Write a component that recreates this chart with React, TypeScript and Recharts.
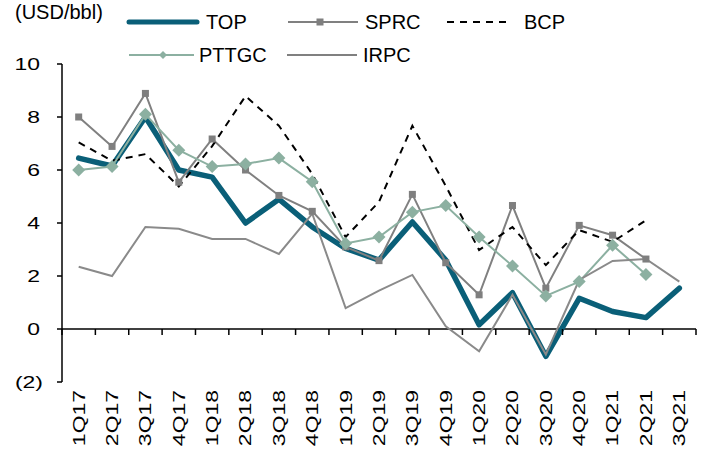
import { LineChart, Line, XAxis, YAxis, ReferenceLine } from "recharts";

const quarters = [
  "1Q17", "2Q17", "3Q17", "4Q17", "1Q18", "2Q18", "3Q18", "4Q18", "1Q19", "2Q19",
  "3Q19", "4Q19", "1Q20", "2Q20", "3Q20", "4Q20", "1Q21", "2Q21", "3Q21",
];
const topVals = [6.45, 6.15, 8.0, 6.0, 5.73, 4.0, 4.9, 3.85, 3.04, 2.6, 4.04, 2.6, 0.16, 1.37, -1.03, 1.16, 0.66, 0.43, 1.54];
const sprcVals = [8.0, 6.89, 8.89, 5.54, 7.17, 6.0, 5.04, 4.44, 3.1, 2.58, 5.08, 2.5, 1.29, 4.66, 1.54, 3.91, 3.54, 2.64, null];
const bcpVals = [7.04, 6.35, 6.6, 5.38, 6.9, 8.79, 7.67, 5.85, 3.47, 4.8, 7.67, 5.4, 2.98, 3.85, 2.41, 3.73, 3.29, 4.1, null];
const pttgcVals = [6.0, 6.13, 8.1, 6.75, 6.13, 6.23, 6.45, 5.56, 3.23, 3.47, 4.41, 4.66, 3.47, 2.38, 1.25, 1.79, 3.16, 2.06, null];
const irpcVals = [2.35, 2.0, 3.85, 3.78, 3.4, 3.4, 2.83, 4.35, 0.79, 1.45, 2.04, 0.1, -0.84, 1.29, -0.96, 1.85, 2.57, 2.64, 1.79];
const yTicks = [-2, 0, 2, 4, 6, 8, 10];

const data = quarters.map((q, i) => ({
  q,
  TOP: topVals[i],
  SPRC: sprcVals[i],
  BCP: bcpVals[i],
  PTTGC: pttgcVals[i],
  IRPC: irpcVals[i],
}));

const FONT = "'Liberation Sans', Arial, sans-serif";
const W = 707;
const H = 463;
const M = { top: 64, right: 11, bottom: 0, left: 0 };
const X_H = 81;
const Y_W = 62;
const plotH = H - M.top - X_H;
const zeroY = M.top + plotH * (10 / 12);
const band = (W - M.right - M.left - Y_W) / quarters.length;

const TEAL = "#0a5f78";
const GRAY = "#808080";
const SAGE = "#8cb0a1";

const fmt = (v: number) => (v < 0 ? `(${Math.abs(v)})` : `${v}`);

function YTick(props: any) {
  const { x, y, payload } = props;
  const v = payload.value as number;
  const dx = v < 0 ? 3 : 0;
  return (
    <text
      transform={`translate(${x + dx},${y}) scale(1.35,1)`}
      textAnchor="end"
      dominantBaseline="central"
      fontFamily={FONT}
      fontSize={17}
      fill="#000"
    >
      {fmt(v)}
    </text>
  );
}

function XTick(props: any) {
  const { x, payload, index } = props;
  const last = index === quarters.length - 1;
  return (
    <g>
      <line x1={x - band / 2} x2={x - band / 2} y1={zeroY} y2={zeroY + 6} stroke="#000" strokeWidth={1.5} />
      {last && <line x1={x + band / 2} x2={x + band / 2} y1={zeroY} y2={zeroY + 6} stroke="#000" strokeWidth={1.5} />}
      <text
        transform={`translate(${x},${M.top + plotH + 8}) rotate(-90) scale(1.35,1)`}
        textAnchor="end"
        dominantBaseline="central"
        fontFamily={FONT}
        fontSize={17}
        fill="#000"
      >
        {payload.value}
      </text>
    </g>
  );
}

const squareDot = (p: any) => {
  if (p.cx == null || p.cy == null || p.value == null) return <g key={p.key} />;
  return <rect key={p.key} x={p.cx - 3.5} y={p.cy - 3.5} width={7} height={7} fill="#7f7f7f" />;
};

const diamondDot = (p: any) => {
  if (p.cx == null || p.cy == null || p.value == null) return <g key={p.key} />;
  const r = 6.5;
  return (
    <polygon
      key={p.key}
      points={`${p.cx},${p.cy - r} ${p.cx + r},${p.cy} ${p.cx},${p.cy + r} ${p.cx - r},${p.cy}`}
      fill={SAGE}
    />
  );
};

// legend drawn by hand so it doesn't push the plot area down
function LegendBox() {
  const r1 = 22;
  const r2 = 55;
  return (
    <g fontFamily={FONT} fontSize={20} fill="#000">
      <text x={15} y={12} dominantBaseline="central">(USD/bbl)</text>
      <line x1={129} x2={197} y1={r1} y2={r1} stroke={TEAL} strokeWidth={5} strokeLinecap="round" />
      <text x={206} y={r1} dominantBaseline="central">TOP</text>
      <line x1={288} x2={358} y1={r1} y2={r1} stroke={GRAY} strokeWidth={2} />
      <rect x={316.5} y={r1 - 3.5} width={7} height={7} fill="#7f7f7f" />
      <text x={365} y={r1} dominantBaseline="central">SPRC</text>
      <line x1={447} x2={511} y1={r1} y2={r1} stroke="#000" strokeWidth={2} strokeDasharray="7 6" />
      <text x={524} y={r1} dominantBaseline="central">BCP</text>
      <line x1={129} x2={194} y1={r2} y2={r2} stroke={SAGE} strokeWidth={2} />
      <polygon points={`163,${r2 - 4} 167,${r2} 163,${r2 + 4} 159,${r2}`} fill={SAGE} />
      <text x={199} y={r2} dominantBaseline="central">PTTGC</text>
      <line x1={287} x2={357} y1={r2} y2={r2} stroke={GRAY} strokeWidth={2} />
      <text x={363} y={r2} dominantBaseline="central">IRPC</text>
    </g>
  );
}

export default function App() {
  return (
    <div style={{ position: "absolute", left: 0, top: 0 }}>
      <LineChart width={W} height={H} data={data} margin={M}>
        <XAxis
          dataKey="q"
          height={X_H}
          axisLine={false}
          tickLine={false}
          interval={0}
          padding={{ left: band / 2, right: band / 2 }}
          tick={<XTick />}
        />
        <YAxis
          width={Y_W}
          domain={[-2, 10]}
          ticks={yTicks}
          interval={0}
          axisLine={{ stroke: "#000", strokeWidth: 1.5 }}
          tickLine={{ stroke: "#000", strokeWidth: 1.5 }}
          tickSize={5}
          tickMargin={17}
          tick={<YTick />}
        />
        <ReferenceLine y={0} stroke="#000" strokeWidth={1.5} />
        <Line dataKey="TOP" stroke={TEAL} strokeWidth={5.5} strokeLinecap="round" strokeLinejoin="round" dot={false} isAnimationActive={false} />
        <Line dataKey="SPRC" stroke={GRAY} strokeWidth={2} dot={squareDot} activeDot={false} isAnimationActive={false} />
        <Line dataKey="BCP" stroke="#000" strokeWidth={2} strokeDasharray="7 6" dot={false} isAnimationActive={false} />
        <Line dataKey="PTTGC" stroke={SAGE} strokeWidth={2} dot={diamondDot} activeDot={false} isAnimationActive={false} />
        <Line dataKey="IRPC" stroke="#8a8a8a" strokeWidth={2} dot={false} isAnimationActive={false} />
        <LegendBox />
      </LineChart>
    </div>
  );
}
